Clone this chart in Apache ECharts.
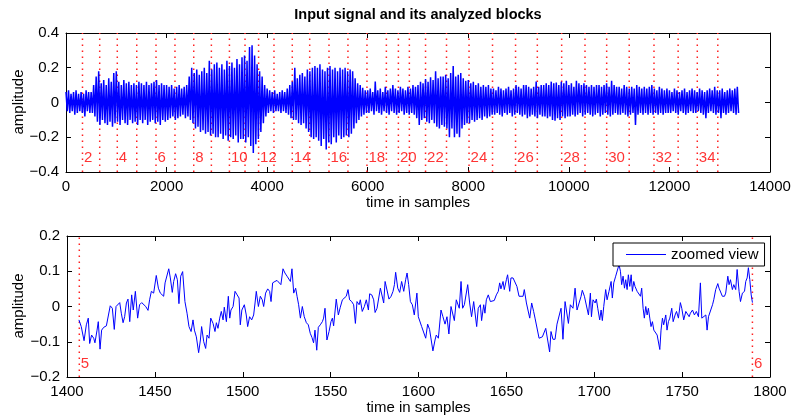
<!DOCTYPE html>
<html><head><meta charset="utf-8">
<script src="https://cdn.jsdelivr.net/npm/echarts@6.0.0/dist/echarts.min.js"></script>
<style>html,body{margin:0;padding:0;background:#fff}#c{width:793px;height:418px}</style>
</head><body><div id="c"></div>
<script>
// ---- data ----
// top panel: signal envelope (max / min) per 50-sample window starting at 0
const envStep = 50;
const upperEnv = [
0.06,0.07,0.05,0.06,0.07,0.05,0.06,0.05,0.07,0.06,
0.06,0.1,0.15,0.18,0.11,0.13,0.1,0.14,0.12,0.17,
0.18,0.12,0.1,0.13,0.11,0.12,0.1,0.11,0.1,0.12,
0.11,0.1,0.12,0.1,0.11,0.12,0.13,0.1,0.11,0.1,
0.1,0.09,0.1,0.08,0.09,0.1,0.08,0.09,0.1,0.15,
0.2,0.17,0.19,0.16,0.18,0.2,0.17,0.24,0.19,0.22,
0.23,0.2,0.22,0.19,0.24,0.21,0.23,0.2,0.25,0.22,
0.26,0.27,0.24,0.32,0.33,0.27,0.22,0.18,0.15,0.1,
0.08,0.07,0.06,0.07,0.05,0.06,0.07,0.06,0.08,0.1,
0.12,0.2,0.14,0.16,0.17,0.15,0.19,0.18,0.2,0.21,
0.2,0.22,0.19,0.18,0.2,0.21,0.19,0.2,0.18,0.2,
0.19,0.2,0.18,0.19,0.18,0.14,0.11,0.1,0.085,0.07,
0.07,0.08,0.06,0.12,0.07,0.08,0.06,0.09,0.07,0.08,
0.1,0.08,0.07,0.09,0.08,0.07,0.09,0.08,0.1,0.09,
0.1,0.12,0.11,0.135,0.12,0.145,0.13,0.18,0.14,0.15,
0.15,0.16,0.14,0.17,0.21,0.15,0.16,0.17,0.14,0.125,
0.13,0.11,0.12,0.1,0.11,0.09,0.1,0.09,0.1,0.08,
0.08,0.07,0.09,0.08,0.07,0.08,0.09,0.07,0.08,0.1,
0.09,0.08,0.1,0.1,0.09,0.08,0.09,0.12,0.09,0.1,
0.1,0.11,0.1,0.12,0.11,0.115,0.1,0.12,0.11,0.125,
0.1,0.11,0.09,0.125,0.11,0.1,0.11,0.1,0.09,0.1,
0.09,0.1,0.1,0.09,0.1,0.11,0.09,0.125,0.1,0.09,
0.09,0.08,0.1,0.09,0.08,0.09,0.08,0.1,0.09,0.08,
0.09,0.08,0.09,0.1,0.08,0.07,0.09,0.08,0.07,0.08,
0.07,0.06,0.08,0.07,0.06,0.07,0.08,0.06,0.07,0.08,
0.07,0.06,0.08,0.07,0.06,0.07,0.08,0.07,0.09,0.07,
0.07,0.08,0.06,0.07,0.08,0.07,0.08,0.09
];
const lowerEnv = [
-0.05,-0.06,-0.05,-0.07,-0.06,-0.05,-0.06,-0.08,-0.05,-0.06,
-0.06,-0.08,-0.11,-0.13,-0.1,-0.12,-0.13,-0.11,-0.14,-0.12,
-0.11,-0.13,-0.1,-0.12,-0.13,-0.1,-0.12,-0.11,-0.13,-0.1,
-0.12,-0.1,-0.13,-0.11,-0.1,-0.12,-0.11,-0.13,-0.1,-0.11,
-0.1,-0.09,-0.08,-0.1,-0.09,-0.08,-0.07,-0.09,-0.08,-0.1,
-0.12,-0.15,-0.14,-0.17,-0.16,-0.18,-0.17,-0.19,-0.18,-0.2,
-0.2,-0.18,-0.21,-0.19,-0.22,-0.2,-0.21,-0.19,-0.23,-0.21,
-0.21,-0.23,-0.2,-0.25,-0.29,-0.24,-0.21,-0.17,-0.12,-0.08,
-0.06,-0.05,-0.06,-0.05,-0.05,-0.06,-0.05,-0.06,-0.07,-0.09,
-0.1,-0.1,-0.12,-0.13,-0.12,-0.15,-0.17,-0.2,-0.21,-0.2,
-0.22,-0.25,-0.21,-0.27,-0.23,-0.24,-0.2,-0.23,-0.19,-0.21,
-0.2,-0.19,-0.2,-0.18,-0.15,-0.12,-0.1,-0.08,-0.07,-0.06,
-0.06,-0.05,-0.07,-0.05,-0.06,-0.07,-0.05,-0.06,-0.07,-0.05,
-0.06,-0.07,-0.06,-0.05,-0.07,-0.06,-0.07,-0.06,-0.07,-0.09,
-0.13,-0.1,-0.09,-0.11,-0.12,-0.1,-0.12,-0.14,-0.15,-0.13,
-0.14,-0.15,-0.2,-0.15,-0.2,-0.18,-0.2,-0.15,-0.13,-0.12,
-0.12,-0.1,-0.11,-0.1,-0.09,-0.1,-0.08,-0.09,-0.08,-0.07,
-0.07,-0.06,-0.07,-0.08,-0.06,-0.07,-0.06,-0.08,-0.07,-0.06,
-0.07,-0.08,-0.07,-0.09,-0.08,-0.07,-0.08,-0.09,-0.07,-0.08,
-0.08,-0.09,-0.08,-0.1,-0.105,-0.09,-0.1,-0.08,-0.09,-0.08,
-0.08,-0.07,-0.08,-0.07,-0.06,-0.08,-0.07,-0.06,-0.07,-0.08,
-0.07,-0.06,-0.08,-0.07,-0.06,-0.07,-0.08,-0.07,-0.06,-0.07,
-0.07,-0.06,-0.07,-0.08,-0.07,-0.06,-0.13,-0.07,-0.06,-0.07,
-0.06,-0.07,-0.06,-0.07,-0.06,-0.07,-0.06,-0.07,-0.06,-0.06,
-0.06,-0.05,-0.06,-0.07,-0.05,-0.06,-0.07,-0.06,-0.05,-0.06,
-0.06,-0.05,-0.06,-0.07,-0.09,-0.06,-0.05,-0.06,-0.07,-0.06,
-0.09,-0.06,-0.07,-0.06,-0.05,-0.06,-0.07,-0.06
];
// block start positions (samples) and their numbers
const blockNums = [2,3,4,5,6,7,8,9,10,11,12,13,14,15,16,17,18,19,20,21,22,23,24,25,26,27,28,29,30,31,32,33,34,35];
const blockStarts = [328,670,1020,1407,1790,2167,2540,2891,3250,3560,3830,4136,4500,4846,5230,5607,5985,6371,6610,6828,7150,7567,8015,8482,8940,9373,9857,10321,10752,11200,11693,12173,12554,12962];
// bottom panel: zoomed signal (sample position, amplitude)
const zoomT = [
1406.8,1408.1,1409.7,1411.0,1412.1,1412.9,1414.0,1415.2,1415.9,1417.1,
1417.8,1418.8,1419.7,1420.9,1422.4,1423.5,1424.6,1425.8,1426.9,1427.9,
1429.0,1430.0,1430.9,1431.9,1432.8,1433.8,1434.7,1435.7,1436.8,1437.7,
1438.9,1439.8,1440.2,1441.3,1442.5,1443.6,1444.8,1446.1,1447.0,1448.0,
1449.3,1450.8,1452.0,1453.1,1453.9,1455.0,1455.8,1456.9,1457.9,1458.8,
1459.9,1460.7,1461.8,1462.8,1463.7,1464.7,1465.8,1467.1,1468.3,1469.4,
1470.6,1471.7,1472.5,1473.6,1474.9,1475.9,1476.6,1477.8,1478.9,1479.7,
1480.8,1481.8,1483.1,1484.2,1485.0,1485.9,1486.9,1487.8,1488.8,1489.5,
1490.7,1491.8,1492.6,1493.3,1494.5,1495.6,1496.8,1497.9,
1498.6,1499.5,1500.9,1502.0,1502.8,1503.9,1505.1,1506.2,1507.0,1507.7,
1508.9,1510.0,1511.1,1511.9,1513.0,1514.2,1515.3,1516.1,1517.0,1518.3,
1519.5,1520.6,1521.7,1522.9,1524.0,1525.2,1526.1,1527.1,1528.0,1529.0,
1530.1,1530.9,1531.8,1532.8,1533.9,1535.0,1536.2,1537.3,1538.4,1539.4,
1540.3,1541.1,1542.1,1543.0,1544.1,1545.3,1546.0,1546.8,1547.9,1549.1,
1550.2,1551.0,1551.7,1553.2,1554.4,1555.5,1556.7,1557.8,1558.9,1559.9,
1560.8,1562.0,1563.1,1564.1,1565.0,1566.2,1566.9,1568.0,1569.2,1570.3,
1571.5,1572.2,1573.4,1574.5,1575.3,1576.4,1577.5,1578.3,1579.4,1580.2,
1581.0,1582.1,1583.2,1584.4,1585.5,1586.3,1587.0,1588.2,1589.3,1590.4,
1591.6,1592.7,1593.5,1594.4,1595.4,1596.5,
1597.6,1598.4,1599.1,1599.9,1601.0,1601.8,1602.9,1604.1,1605.2,1606.3,
1607.1,1608.2,1609.4,1610.1,1611.3,1612.8,1613.9,1615.1,1616.2,1617.3,
1618.5,1619.2,1620.4,1621.5,1622.3,1623.2,1624.2,1625.1,1626.1,1627.0,
1628.0,1629.1,1630.2,1631.4,1632.1,1633.1,1634.0,1635.2,1635.9,1637.1,
1637.8,1638.6,1639.7,1640.9,1642.0,1643.1,1644.3,1645.4,1646.2,1646.9,
1648.1,1648.8,1650.0,1650.7,1651.9,1652.6,1653.8,1654.9,1656.0,1657.2,
1658.3,1659.5,1660.2,1661.4,1662.1,1663.3,1664.4,1665.5,1666.3,1667.4,
1668.6,1669.3,1670.5,1671.6,1672.4,1673.5,1674.6,1675.4,1676.5,1677.7,
1678.8,1679.9,1681.1,1682.2,1683.4,1684.5,1685.3,1686.4,1687.9,1689.1,
1690.2,1691.3,1692.5,1693.2,1694.4,1695.5,1696.7,
1697.8,1698.4,1699.3,1700.5,1701.2,1702.0,1703.1,1703.9,1704.6,1705.4,
1706.5,1707.3,1708.4,1709.6,1710.3,1711.1,1712.2,1713.0,1714.1,1714.9,
1715.6,1716.4,1717.2,1717.9,1718.7,1719.4,1720.2,1721.0,1721.7,1722.5,
1723.2,1724.4,1725.5,1726.3,1727.0,1727.8,1728.5,1729.3,1730.1,1730.8,
1731.6,1732.3,1733.1,1733.9,1734.6,1735.8,1736.5,1737.3,1738.0,1738.8,
1739.5,1740.7,1741.4,1742.2,1743.0,1744.1,1744.9,1746.0,1746.8,1747.9,
1749.0,1749.8,1750.9,1752.1,1753.2,1754.0,1754.7,1755.9,1757.0,1758.1,
1759.3,1760.4,1761.2,1762.3,1763.5,1764.2,1765.0,1766.1,1767.3,1768.0,
1769.1,1770.3,1771.0,1771.8,1772.9,1774.1,1774.8,1776.0,1776.7,1777.5,
1778.6,1779.4,1780.5,1781.3,1782.4,1783.2,1784.3,1785.5,1786.2,1787.0,
1787.7,1788.5,1789.3,1790.0
];
const zoomA = [
-0.038,-0.057,-0.097,-0.052,-0.033,-0.105,-0.081,-0.090,-0.103,-0.067,
-0.043,-0.121,-0.067,-0.059,-0.055,-0.052,0.002,-0.005,-0.065,0,
0.005,0.011,-0.019,-0.046,-0.029,0.010,0.021,-0.043,0.033,-0.010,
0.043,0.045,-0.033,0.005,0.011,0.010,0,-0.011,0.019,0.043,
0.038,0.088,0.052,0.038,0.043,0.029,0.067,0.071,0.107,0.081,
0.040,0.071,0.093,0.076,0.008,0.086,0.099,0.014,-0.019,-0.057,
-0.071,-0.038,-0.067,-0.086,-0.131,-0.095,-0.057,-0.100,-0.119,-0.081,
-0.090,-0.033,-0.048,-0.071,-0.046,-0.062,-0.033,-0.014,-0.038,-0.002,
-0.043,0.029,-0.033,-0.010,0,0.043,0.033,0.024,
-0.052,-0.010,0.005,-0.024,-0.057,-0.029,-0.038,-0.024,0.010,0.043,
0,0.029,0.019,0,0.038,0.050,0.043,0.014,0.067,0.071,
0.074,0.071,0.062,0.107,0.095,0.086,0.090,0.071,0.107,0.038,
0.052,0.029,0.005,-0.033,0,-0.029,-0.046,-0.052,-0.076,-0.088,
-0.103,-0.067,-0.124,-0.059,-0.052,-0.043,-0.033,-0.005,-0.095,-0.071,
-0.043,-0.033,-0.055,0.021,-0.024,-0.002,0.019,0.014,0.029,0.048,
0.019,0.014,0.005,-0.048,0.014,0.005,0.019,-0.014,0,0.019,
-0.010,0.036,0.033,0.019,-0.017,-0.005,-0.008,0.052,0.057,0.010,
0.071,0.069,0.021,0.029,0.043,0.062,0.097,0.052,0.040,0.071,
0.043,0.076,0.095,0.062,0.014,0.005,
-0.024,-0.029,0.038,-0.029,-0.024,-0.057,-0.062,-0.090,-0.050,-0.065,
-0.067,-0.126,-0.095,-0.081,-0.090,-0.010,-0.029,-0.050,-0.029,-0.078,
0,0.002,-0.040,0.019,0.024,-0.005,0.071,-0.005,0.005,0,
0.062,0.010,-0.029,0.014,0.010,-0.057,-0.005,0.005,-0.040,0.005,
-0.019,0.019,0.033,0.014,0.014,0.017,0.033,0.043,0.067,0.050,
0.071,0.048,0.076,0.090,0.043,0.081,0.081,0.076,0.057,0.029,
0.024,0.029,0.048,0.010,0.014,-0.033,0.010,-0.014,-0.033,-0.029,
-0.090,-0.095,-0.086,-0.081,-0.062,-0.067,-0.129,-0.071,-0.093,-0.093,
-0.050,-0.055,-0.005,-0.093,0.014,0.010,-0.048,0.005,-0.005,0.052,
-0.010,-0.014,0.029,0.046,0.029,0.024,-0.024,
0.038,-0.029,0.019,0.010,0.021,-0.005,-0.038,-0.010,-0.040,0,
0.048,0.019,0.043,0.071,0.024,0.067,0.086,0.090,0.119,0.100,
0.062,0.086,0.052,0.076,0.048,0.090,0.057,0.090,0.043,0.071,
0.057,0.043,0.048,0.029,0.052,-0.005,-0.033,0,-0.024,-0.005,
-0.033,-0.057,-0.043,-0.067,-0.062,-0.081,-0.086,-0.122,-0.067,-0.033,
-0.052,-0.024,-0.067,-0.043,-0.033,-0.005,-0.043,-0.024,-0.014,-0.033,
0.011,-0.005,-0.038,-0.014,-0.010,-0.029,-0.019,-0.010,-0.024,-0.014,
-0.029,0.067,-0.033,-0.038,-0.024,-0.067,-0.029,-0.033,0.005,0.019,
0.048,0.065,0.052,0.048,0.029,0.029,0.038,0.086,0.062,0.076,
0.048,0.062,0.048,0.105,0.043,0.014,0.038,0.043,0.071,0.081,
0.110,0.076,0.033,0.011
];
const titleText = 'Input signal and its analyzed blocks';
const xName = 'time in samples';
const yName = 'amplitude';
const legendName = 'zoomed view';

// ---- chart ----
const FONT = '"Liberation Sans", Arial, Helvetica, sans-serif';
const chart = echarts.init(document.getElementById('c'), null, {renderer: 'canvas'});

const signalData = [];
for (let i = 0; i < Math.min(upperEnv.length, lowerEnv.length); i++) {
  signalData.push([i * envStep, upperEnv[i]]);
  signalData.push([i * envStep + envStep / 2, lowerEnv[i]]);
}
const zoomData = [];
for (let i = 0; i < Math.min(zoomT.length, zoomA.length); i++) zoomData.push([zoomT[i], zoomA[i]]);

const TOP_Y = [-0.4, 0.4], BOT_Y = [-0.2, 0.2];
const ZMIN = 1400, ZMAX = 1800;
function blockSegs(list, yr) {
  const out = [];
  list.forEach(b => { out.push([b, yr[0]]); out.push([b, yr[1]]); out.push(['-', '-']); });
  return out;
}
const topLabels = [];
blockStarts.forEach((b, i) => { if (blockNums[i] % 2 === 0) topLabels.push([b, -0.319, String(blockNums[i])]); });
const botStarts = [], botLabels = [];
blockStarts.forEach((b, i) => { if (b >= ZMIN && b <= ZMAX) { botStarts.push(b); botLabels.push([b, -0.162, String(blockNums[i])]); } });

const yFmt = v => { const r = Math.round(v * 10) / 10; return r === 0 ? '0' : String(r).replace('-', '\u2212'); };
const xFmt = v => String(Math.round(v));
function xAx(grid, min, max, interval, pos, withLabels, nameGap) {
  const a = {
    gridIndex: grid, type: 'value', min, max, interval, position: pos,
    axisLine: {show: true, onZero: false, lineStyle: {color: '#000', width: 1}},
    axisTick: {show: true, inside: true, length: 5, lineStyle: {color: '#000', width: 1}},
    axisLabel: {show: withLabels, color: '#000', fontSize: 15, fontFamily: FONT, margin: 7, formatter: xFmt},
    splitLine: {show: false}
  };
  if (withLabels) {
    a.name = xName; a.nameLocation = 'middle'; a.nameGap = nameGap;
    a.nameTextStyle = {color: '#000', fontSize: 15, fontFamily: FONT};
  }
  return a;
}
function yAx(grid, min, max, interval, pos, withLabels) {
  return {
    gridIndex: grid, type: 'value', min, max, interval, position: pos,
    axisLine: {show: true, onZero: false, lineStyle: {color: '#000', width: 1}},
    axisTick: {show: true, inside: true, length: 5, lineStyle: {color: '#000', width: 1}},
    axisLabel: {show: withLabels, color: '#000', fontSize: 15, fontFamily: FONT, margin: 7, formatter: yFmt},
    splitLine: {show: false}
  };
}
function labelStyle() {
  return {show: true, position: 'right', distance: 1, color: '#ff0000', fontSize: 15, fontFamily: FONT,
    formatter: p => p.data[2]};
}
function dotted() {
  return {color: '#ff2020', width: 1.5, type: [1.5, 4.5], cap: 'butt'};
}
function vText(txt, cx, cy) {
  return {type: 'text', x: cx, y: cy, rotation: Math.PI / 2,
    style: {text: txt, fill: '#000', font: '15px ' + FONT, textAlign: 'center', align: 'center',
      textVerticalAlign: 'middle', verticalAlign: 'middle'}};
}

chart.setOption({
  animation: false,
  backgroundColor: '#fff',
  graphic: [
    {type: 'text', x: 418, y: 7,
      style: {text: titleText, fill: '#000', font: 'bold 14.5px ' + FONT, textAlign: 'center', align: 'center',
        textVerticalAlign: 'top', verticalAlign: 'top'}},
    vText(yName, 19, 102),
    vText(yName, 19, 306)
  ],
  grid: [
    {left: 66, right: 23, top: 33, height: 139, containLabel: false, outerBoundsMode: 'none'},
    {left: 67, right: 23, top: 236, height: 141, containLabel: false, outerBoundsMode: 'none'}
  ],
  legend: {
    data: [{name: legendName, icon: 'rect'}],
    left: 613, top: 243, orient: 'horizontal',
    itemWidth: 40, itemHeight: 1.2, padding: [4, 6, 4, 13],
    borderColor: '#000', borderWidth: 1, backgroundColor: '#fff',
    textStyle: {color: '#000', fontSize: 15, fontFamily: FONT},
    selectedMode: false, z: 20
  },
  xAxis: [
    xAx(0, 0, 14000, 2000, 'bottom', true, 19),
    xAx(0, 0, 14000, 2000, 'top', false),
    xAx(1, ZMIN, ZMAX, 50, 'bottom', true, 23),
    xAx(1, ZMIN, ZMAX, 50, 'top', false)
  ],
  yAxis: [
    yAx(0, TOP_Y[0], TOP_Y[1], 0.2, 'left', true),
    yAx(0, TOP_Y[0], TOP_Y[1], 0.2, 'right', false),
    yAx(1, BOT_Y[0], BOT_Y[1], 0.1, 'left', true),
    yAx(1, BOT_Y[0], BOT_Y[1], 0.1, 'right', false)
  ],
  series: [
    {type: 'line', name: 'blocksTop', xAxisIndex: 0, yAxisIndex: 0, data: blockSegs(blockStarts, TOP_Y), z: 1,
      silent: true, showSymbol: false, symbol: 'none', connectNulls: false,
      lineStyle: dotted(), itemStyle: {color: '#ff2020'}},
    {type: 'line', name: 'signal', xAxisIndex: 0, yAxisIndex: 0, data: signalData, z: 3,
      showSymbol: false, symbol: 'none', silent: true, lineStyle: {color: '#0000ff', width: 1.5}, itemStyle: {color: '#0000ff'}},
    {type: 'scatter', xAxisIndex: 0, yAxisIndex: 0, data: topLabels, symbolSize: 1, z: 4, silent: true,
      itemStyle: {color: 'rgba(0,0,0,0)'}, label: labelStyle()},
    {type: 'line', name: 'blocksBottom', xAxisIndex: 2, yAxisIndex: 2, data: blockSegs(botStarts, BOT_Y), z: 1,
      silent: true, showSymbol: false, symbol: 'none', connectNulls: false,
      lineStyle: dotted(), itemStyle: {color: '#ff2020'}},
    {type: 'line', name: legendName, xAxisIndex: 2, yAxisIndex: 2, data: zoomData, z: 3,
      showSymbol: false, symbol: 'none', silent: true, lineStyle: {color: '#0000ff', width: 1}, itemStyle: {color: '#0000ff'}},
    {type: 'scatter', xAxisIndex: 2, yAxisIndex: 2, data: botLabels, symbolSize: 1, z: 4, silent: true,
      itemStyle: {color: 'rgba(0,0,0,0)'}, label: labelStyle()}
  ]
});
</script>
</body></html>
